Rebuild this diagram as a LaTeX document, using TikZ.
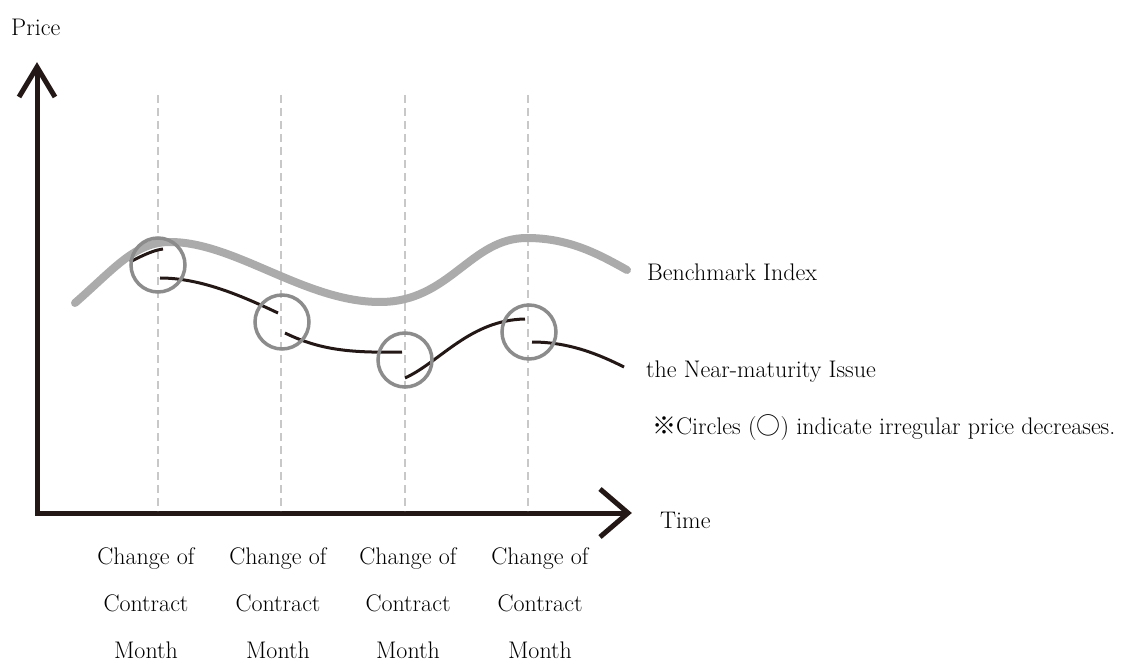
\documentclass[tikz,border=0pt]{standalone}
\usepackage{fontspec}
\newfontfamily\cjk{Noto Sans CJK JP}
\definecolor{inkblack}{HTML}{231815}
\definecolor{benchgray}{HTML}{ABABAB}
\definecolor{ringgray}{HTML}{8C8C8C}
\definecolor{guidegray}{HTML}{C8C8C8}
\begin{document}
\begin{tikzpicture}[x=1pt,y=-1pt,
  axisline/.style={line width=5pt,color=inkblack,line join=miter},
  guide/.style={line width=1.2pt,color=guidegray,dash pattern=on 8pt off 5pt},
  bench/.style={line width=8pt,color=benchgray,line cap=round},
  issue/.style={line width=3pt,color=inkblack},
  ring/.style={circle,draw=ringgray,line width=3.5pt,minimum size=54pt,inner sep=0pt},
  lbl/.style={font=\fontsize{24}{28}\selectfont,inner sep=0pt},
  month/.style={lbl,align=center,font=\fontsize{24}{47}\selectfont}]
\useasboundingbox (0,0) rectangle (1124,668);

% axes
\coordinate (origin) at (37,513);
\coordinate (ytip) at (37,67);
\coordinate (xtip) at (628,513);
\draw[axisline] (origin) -- (ytip);
\draw[axisline] (19,97) -- (ytip) -- (55,97);
\draw[axisline] (35,513) -- (xtip);
\draw[axisline] (600,489) -- (xtip) -- (600,537);

% contract month guides
\foreach \gx in {158,281,405,528}
  \draw[guide] (\gx,95) -- (\gx,511);

% benchmark index
\draw[bench] (75,303) .. controls (115,268) and (135,242) .. (170,242)
  .. controls (235,242) and (305,302) .. (380,302)
  .. controls (450,302) and (470,238) .. (527,238)
  .. controls (570,238) and (600,255) .. (627,270);

% near-maturity issue, one piece per contract
\draw[issue] (130,262) .. controls (145,254) and (155,250) .. (163,249);
\draw[issue] (160,278) .. controls (200,278) and (240,295) .. (278,313);
\draw[issue] (285,333) .. controls (320,350) and (350,353) .. (402,352);
\draw[issue] (405,378) .. controls (440,362) and (470,320) .. (525,319);
\draw[issue] (532,342) .. controls (570,342) and (600,355) .. (624,367);

% irregular decreases
\node[ring] (r1) at (158,265) {};
\node[ring] (r2) at (282,322) {};
\node[ring] (r3) at (405,360) {};
\node[ring] (r4) at (529,332) {};

% labels
\node[lbl,anchor=west] (price) at (11,27) {Price};
\node[lbl,anchor=west] (time) at (660,520) {Time};
\node[lbl,anchor=west] (bench) at (647,272) {Benchmark Index};
\node[lbl,anchor=west] (issue) at (646,372) {the Near-maturity Issue};
\node[lbl,anchor=west] (note) at (652,428) {{\cjk ※}Circles ({\cjk ○}) indicate irregular price decreases.};

\node[month,anchor=north] (m1) at (146,547) {Change of\\Contract\\Month};
\node[month,anchor=north] (m2) at (278,547) {Change of\\Contract\\Month};
\node[month,anchor=north] (m3) at (408,547) {Change of\\Contract\\Month};
\node[month,anchor=north] (m4) at (540,547) {Change of\\Contract\\Month};
\end{tikzpicture}
\end{document}
